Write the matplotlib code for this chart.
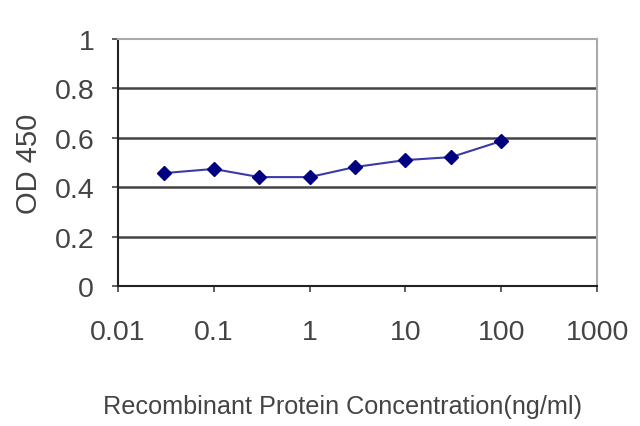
import matplotlib
matplotlib.use("Agg")
import matplotlib.pyplot as plt

# concentration (ng/ml) and OD 450
conc = [0.03, 0.1, 0.3, 1, 3, 10, 30, 100]
od450 = [0.457, 0.474, 0.441, 0.441, 0.482, 0.51, 0.522, 0.587]

x_ticks = [0.01, 0.1, 1, 10, 100, 1000]
x_tick_labels = ["0.01", "0.1", "1", "10", "100", "1000"]
y_ticks = [0, 0.2, 0.4, 0.6, 0.8, 1]
y_tick_labels = ["0", "0.2", "0.4", "0.6", "0.8", "1"]

FONT = ["Liberation Sans Narrow", "Liberation Sans", "DejaVu Sans"]
plt.rcParams["font.family"] = FONT

fig = plt.figure(figsize=(6.4, 4.27), dpi=100)
ax = fig.add_axes([0.184, 0.328, 0.749, 0.578])

for y in y_ticks[1:-1]:
    ax.axhline(y, color="#444444", linewidth=1.8, zorder=1)

ax.plot(conc, od450, color="#3a3aa8", linewidth=1.5, marker="D",
        markersize=7, markerfacecolor="#000080", markeredgecolor="#000080",
        zorder=3)

ax.set_xscale("log")
ax.set_xlim(0.01, 1000)
ax.set_ylim(0, 1)
ax.set_xticks(x_ticks)
ax.set_xticklabels(x_tick_labels)
ax.minorticks_off()
ax.set_yticks(y_ticks)
ax.set_yticklabels(y_tick_labels)

ax.tick_params(axis="both", labelsize=20.5, colors="#444444", length=4, width=1.2)
ax.tick_params(axis="x", pad=20)
ax.tick_params(axis="y", pad=13)

for side in ("left", "bottom"):
    ax.spines[side].set_color("#222222")
    ax.spines[side].set_linewidth(1.5)
for side in ("top", "right"):
    ax.spines[side].set_color("#aaaaaa")
    ax.spines[side].set_linewidth(1.5)

ax.set_ylabel("OD 450", fontsize=21, color="#444444")
ax.yaxis.set_label_coords(-0.156, 0.5)
ax.set_xlabel("Recombinant Protein Concentration(ng/ml)", fontsize=18.2,
              color="#444444")
ax.xaxis.set_label_coords(0.468, -0.438)

fig.savefig("out.png", dpi=100)
